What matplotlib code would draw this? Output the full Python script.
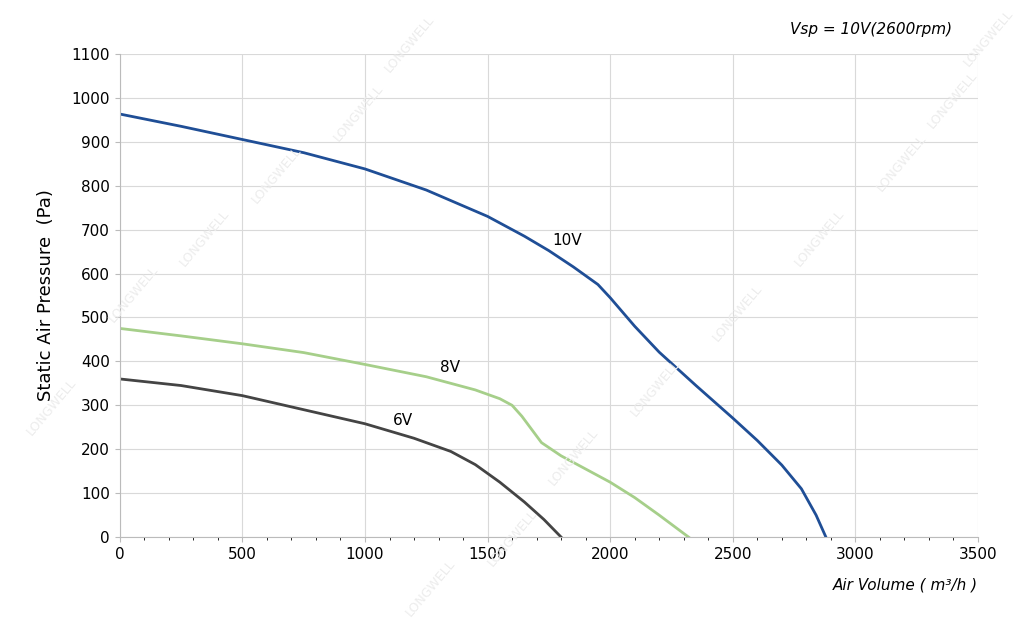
import matplotlib
matplotlib.use("Agg")
import matplotlib.pyplot as plt
from matplotlib.ticker import MultipleLocator

x10 = [0, 250, 500, 750, 1000, 1250, 1500, 1650, 1750, 1850, 1950, 2000, 2100, 2200, 2350, 2500, 2600, 2700, 2780, 2840, 2880]
y10 = [963, 935, 905, 875, 838, 790, 730, 685, 652, 615, 575, 545, 480, 421, 345, 271, 220, 164, 110, 50, 0]
x8 = [0, 250, 500, 750, 1000, 1250, 1450, 1550, 1600, 1640, 1680, 1720, 1800, 1900, 2000, 2100, 2200, 2320]
y8 = [475, 458, 440, 420, 393, 365, 335, 315, 300, 275, 245, 215, 185, 155, 125, 90, 50, 0]
x6 = [0, 250, 500, 750, 1000, 1200, 1350, 1450, 1550, 1650, 1730, 1800]
y6 = [360, 345, 322, 290, 258, 225, 195, 165, 125, 80, 40, 0]

fig = plt.figure(figsize=(10.24, 6.26), dpi=100)
for (fx, fy) in [(0.05, 0.35), (0.13, 0.53), (0.2, 0.62), (0.27, 0.72), (0.35, 0.82), (0.4, 0.93),
                 (0.5, 0.14), (0.56, 0.27), (0.64, 0.38), (0.72, 0.5), (0.8, 0.62), (0.88, 0.74), (0.93, 0.84), (0.965, 0.94), (0.42, 0.06)]:
    fig.text(fx, fy, "LONGWELL", fontsize=9, color="#ececec", rotation=50, ha="center", va="center", zorder=0)
ax = fig.add_axes([0.117, 0.142, 0.838, 0.772])
ax.patch.set_alpha(0)
ax.plot(x10, y10, color="#1f4e96", lw=2)
ax.plot(x8, y8, color="#a6cf8a", lw=2)
ax.plot(x6, y6, color="#444444", lw=2)
ax.text(1825, 674, "10V", fontsize=11, ha="center", va="center")
ax.text(1347, 385, "8V", fontsize=11, ha="center", va="center")
ax.text(1155, 266, "6V", fontsize=11, ha="center", va="center")
ax.set_xlim(0, 3500)
ax.set_ylim(0, 1100)
ax.xaxis.set_major_locator(MultipleLocator(500))
ax.xaxis.set_minor_locator(MultipleLocator(100))
ax.yaxis.set_major_locator(MultipleLocator(100))
ax.grid(True, which="major", color="#d9d9d9", lw=0.8)
for s in ["top", "right"]:
    ax.spines[s].set_visible(False)
for s in ["left", "bottom"]:
    ax.spines[s].set_color("#bbbbbb")
ax.tick_params(labelsize=11, color="#bbbbbb")
ax.set_ylabel("Static Air Pressure  (Pa)", fontsize=13, labelpad=12)
fig.text(0.955, 0.058, "Air Volume ( m³/h )", fontsize=11, style="italic", ha="right")
fig.text(0.93, 0.945, "Vsp = 10V(2600rpm)", fontsize=11, style="italic", ha="right")
fig.savefig("out.png", dpi=100)
